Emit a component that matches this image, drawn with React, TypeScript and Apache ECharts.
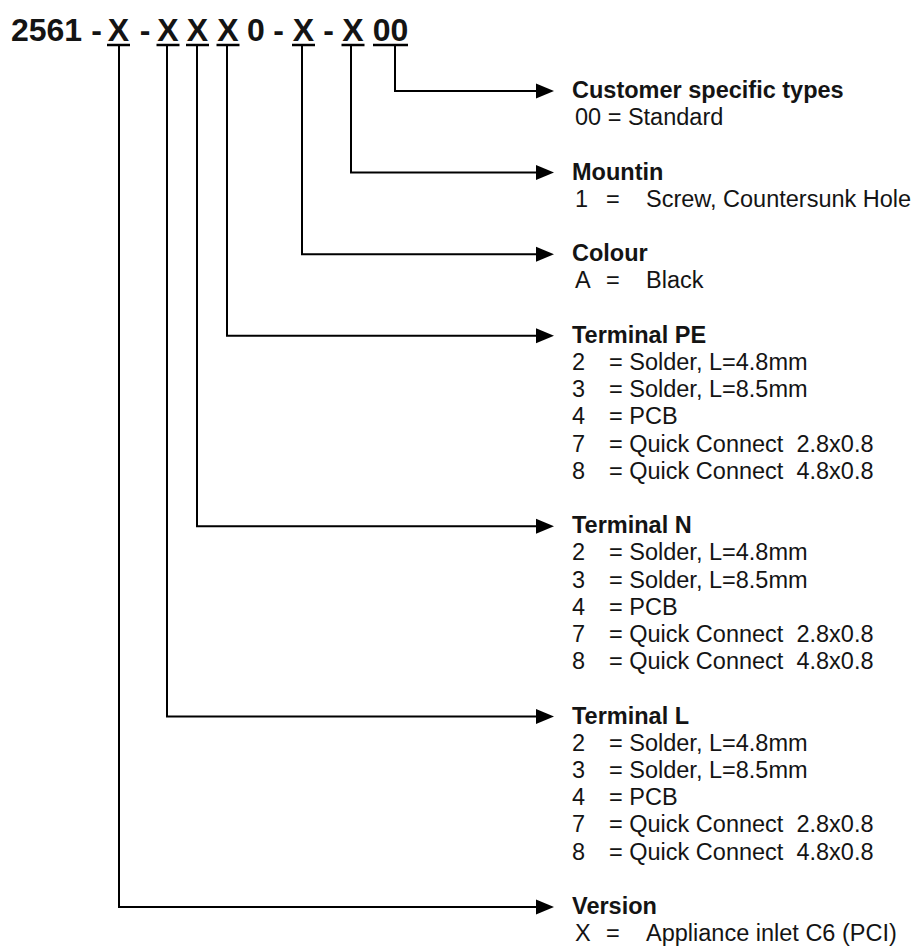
import React, { useEffect, useRef } from "react";
import * as echarts from "echarts";

// ---- Content ----
const codeTokens = ["2561", "-", "X", "-", "X", "X", "X", "0", "-", "X", "-", "X", "00"];
const codeCenters = [46.5, 96.5, 118.5, 145, 168, 197.5, 228, 256, 278.5, 303.5, 328.5, 353, 390.5];
const underlined = [false, false, true, false, true, true, true, false, false, true, false, true, true];

const blockTitles = [
  "Customer specific types",
  "Mountin",
  "Colour",
  "Terminal PE",
  "Terminal N",
  "Terminal L",
  "Version",
];
// x of the vertical leader that feeds each block (from the code position above)
const leaderX = [395, 351, 302, 227, 197, 167, 119];

const customerDetails = [["00 = Standard"]];
const mountingDetails = [["1", "=", "Screw, Countersunk Hole"]];
const colourDetails = [["A", "=", "Black"]];
const terminalOptions = [
  ["2", "= Solder, L=4.8mm"],
  ["3", "= Solder, L=8.5mm"],
  ["4", "= PCB"],
  ["7", "= Quick Connect  2.8x0.8"],
  ["8", "= Quick Connect  4.8x0.8"],
];
const versionDetails = [["X", "=", "Appliance inlet C6 (PCI)"]];

const blockDetails = [
  customerDetails,
  mountingDetails,
  colourDetails,
  terminalOptions,
  terminalOptions,
  terminalOptions,
  versionDetails,
];

const W = 915;
const H = 947;

export default function App() {
  const ref = useRef<HTMLDivElement>(null);

  useEffect(() => {
    document.body.style.margin = "0";
    if (!ref.current) return;
    const chart = echarts.init(ref.current, undefined, { renderer: "svg" });

    const FONT = '"Liberation Sans", Arial, sans-serif';
    const ink = "#141414";
    const fs = 23.5;
    const pitch = 27.2;
    const labelX = 572;
    const arrowTip = 554;
    const arrowBase = 537;
    const topY = 46;

    const elements: any[] = [];

    // Code line
    codeTokens.forEach((t, i) => {
      elements.push({
        type: "text",
        x: codeCenters[i],
        y: 30,
        style: {
          text: t,
          fill: ink,
          fontFamily: FONT,
          fontWeight: "bold",
          fontSize: 32,
          align: "center",
          verticalAlign: "middle",
        },
      });
      if (underlined[i]) {
        const w = t.length * (t === "X" ? 23 : 17.5);
        elements.push({
          type: "line",
          shape: { x1: codeCenters[i] - w / 2, y1: 45, x2: codeCenters[i] + w / 2, y2: 45 },
          style: { stroke: "#000", lineWidth: 2.5 },
        });
      }
    });

    // Blocks
    let y = 91;
    blockTitles.forEach((title, b) => {
      const vx = leaderX[b];
      elements.push({
        type: "polyline",
        shape: { points: [[vx, topY], [vx, y], [arrowBase, y]] },
        style: { stroke: "#000", lineWidth: 2, fill: null },
      });
      elements.push({
        type: "polygon",
        shape: { points: [[arrowBase - 1, y - 7.5], [arrowTip, y], [arrowBase - 1, y + 7.5]] },
        style: { fill: "#000" },
      });
      elements.push({
        type: "text",
        x: labelX,
        y: y - 1,
        style: {
          text: title,
          fill: ink,
          fontFamily: FONT,
          fontWeight: "bold",
          fontSize: fs,
          verticalAlign: "middle",
        },
      });
      const details = blockDetails[b];
      details.forEach((row, r) => {
        const ry = y - 1 + (r + 1) * pitch;
        const textStyle = (text: string) => ({
          text,
          fill: ink,
          fontFamily: FONT,
          fontSize: fs,
          verticalAlign: "middle",
        });
        if (row.length === 1) {
          elements.push({ type: "text", x: labelX + 3, y: ry, style: textStyle(row[0]) });
        } else if (row.length === 2) {
          elements.push({ type: "text", x: labelX, y: ry, style: textStyle(row[0]) });
          elements.push({ type: "text", x: 609, y: ry, style: textStyle(row[1]) });
        } else {
          elements.push({ type: "text", x: labelX + 3, y: ry, style: textStyle(row[0]) });
          elements.push({ type: "text", x: 606, y: ry, style: textStyle(row[1]) });
          elements.push({ type: "text", x: 646, y: ry, style: textStyle(row[2]) });
        }
      });
      y += (details.length + 2) * pitch;
    });

    chart.setOption({
      animation: false,
      backgroundColor: "#ffffff",
      graphic: { elements },
      series: [],
    });

    return () => chart.dispose();
  }, []);

  return <div ref={ref} style={{ width: W, height: H }} />;
}
